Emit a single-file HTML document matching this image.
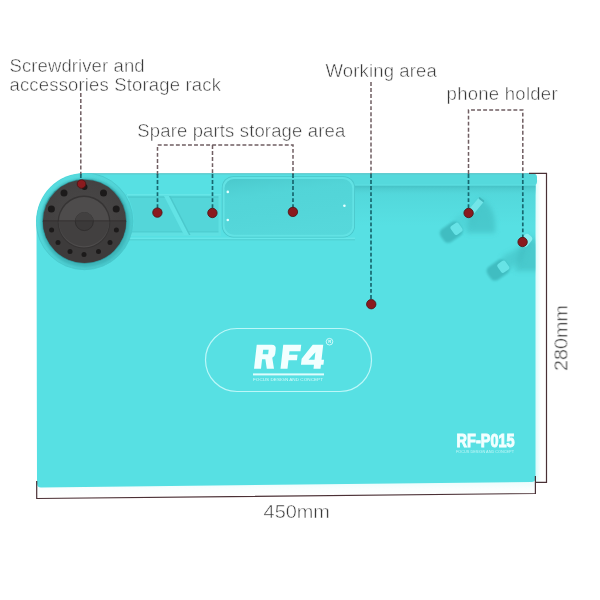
<!DOCTYPE html>
<html><head><meta charset="utf-8">
<style>
html,body{margin:0;padding:0;background:#fff;width:600px;height:600px;overflow:hidden}
svg{display:block}
.t{font-family:"Liberation Sans",sans-serif;font-size:18.5px;fill:#383838;stroke:#fff;stroke-width:0.5px}
</style></head>
<body>
<svg width="600" height="600" viewBox="0 0 600 600" style="opacity:0.999">
<defs>
  <linearGradient id="under" x1="0" y1="0" x2="0" y2="1">
    <stop offset="0" stop-color="#3fb8bc"/>
    <stop offset="0.3" stop-color="#4ecdd0"/>
    <stop offset="1" stop-color="#59dee0" stop-opacity="0"/>
  </linearGradient>
  <linearGradient id="thick" x1="0" y1="0" x2="0" y2="1">
    <stop offset="0" stop-color="#e6fcfc"/>
    <stop offset="0.5" stop-color="#fafefe"/>
    <stop offset="1" stop-color="#ffffff"/>
  </linearGradient>
  <linearGradient id="rside" x1="0" y1="0" x2="1" y2="0">
    <stop offset="0" stop-color="#d8fafa"/>
    <stop offset="1" stop-color="#ffffff"/>
  </linearGradient>
  <radialGradient id="disc" cx="0.5" cy="0.45" r="0.55">
    <stop offset="0" stop-color="#4a4848"/>
    <stop offset="1" stop-color="#424040"/>
  </radialGradient>
  <linearGradient id="cmpg" x1="0" y1="0" x2="0.3" y2="1">
    <stop offset="0" stop-color="#46c2c6" stop-opacity="0.7"/>
    <stop offset="0.35" stop-color="#4ccbce" stop-opacity="0.2"/>
    <stop offset="1" stop-color="#5ad9dc" stop-opacity="0.3"/>
  </linearGradient>
  <linearGradient id="ringg" x1="0.15" y1="0.1" x2="0.85" y2="0.95">
    <stop offset="0" stop-color="#57dcdf"/>
    <stop offset="0.5" stop-color="#50d2d5"/>
    <stop offset="1" stop-color="#48c7cb"/>
  </linearGradient>
  <linearGradient id="under2" x1="0" y1="0" x2="0" y2="1">
    <stop offset="0" stop-color="#4ccbcf" stop-opacity="0.5"/>
    <stop offset="1" stop-color="#4ccbcf" stop-opacity="0"/>
  </linearGradient>
  <clipPath id="matclip"><path d="M84.5,173.5 L532,173.5 Q535.5,173.5 535.5,177 L535.5,478 Q535.5,482 531.5,482 L41,487.5 Q37,487.5 37,483.5 L36.5,221 A48,48 0 0 1 84.5,173.5 Z"/></clipPath>
  <filter id="b1" x="-50%" y="-50%" width="200%" height="200%"><feGaussianBlur stdDeviation="1"/></filter>
  <filter id="b2" x="-50%" y="-50%" width="200%" height="200%"><feGaussianBlur stdDeviation="2.5"/></filter>
  <filter id="b4" x="-50%" y="-50%" width="200%" height="200%"><feGaussianBlur stdDeviation="4"/></filter>
</defs>

<!-- white thickness under mat + right side -->
<rect x="535" y="180" width="6" height="302" fill="url(#rside)"/>
<polygon points="37,486 535.5,480 535.5,493 37,498" fill="url(#thick)"/>

<!-- mat body -->
<path d="M84.5,173.5 L532,173.5 Q535.5,173.5 535.5,177 L535.5,478 Q535.5,482 531.5,482 L41,487.5 Q37,487.5 37,483.5 L36.5,221 A48,48 0 0 1 84.5,173.5 Z" fill="#57e0e3"/>

<!-- right top band -->
<path d="M350,173.5 L533,173.5 Q537,173.5 537,177.5 L537,181.5 Q537,185.5 533,185.5 L350,185.5 Z" fill="#55d9dc"/>
<rect x="84" y="173.2" width="451" height="1.2" fill="#5cc8cb"/>
<rect x="352" y="185.5" width="183.5" height="10" fill="url(#under)"/>
<rect x="352" y="185.5" width="183.5" height="40" fill="url(#under2)"/>
<rect x="352" y="184.6" width="183.5" height="0.9" fill="#60e2e4"/>

<!-- left shelf -->
<rect x="120" y="237.6" width="235" height="1.4" fill="#66e7e9"/>
<rect x="120" y="239" width="235" height="1.5" fill="#52d3d6"/>

<!-- tray -->
<path d="M126,194 H221 V236 H131.1 A49,49 0 0 0 126,194 Z" fill="#54d6d9"/>
<rect x="127" y="194" width="94" height="1.6" fill="#66e6e8"/>
<rect x="128" y="196.6" width="93" height="1" fill="#4bc7cb"/>
<rect x="131" y="231.5" width="90" height="1" fill="#4bc7cb"/>
<rect x="131" y="232.5" width="90" height="3.5" fill="#5fe0e2"/>
<polygon points="164,196 169,196 189,235 184,235" fill="#62e3e5"/>
<polygon points="169,196 170.5,196 190.5,235 189,235" fill="#4cc8cc"/>
<rect x="218.5" y="196" width="2.5" height="40" fill="#5fe0e2"/>

<!-- rounded compartment -->
<rect x="221.8" y="176.2" width="133.2" height="61.2" rx="11.6" fill="#49c5c9"/>
<rect x="222.6" y="176.9" width="131.6" height="59.8" rx="11" fill="#62e2e4"/>
<rect x="224.6" y="178.9" width="127.6" height="55.8" rx="9.4" fill="#54d7da"/>
<rect x="224.6" y="178.9" width="127.6" height="55.8" rx="9.4" fill="url(#cmpg)"/>
<circle cx="227.8" cy="191.9" r="1.3" fill="#e6ffff"/>
<circle cx="227.8" cy="220" r="1.3" fill="#e6ffff"/>
<circle cx="344.4" cy="205.8" r="1.3" fill="#e6ffff"/>

<!-- storage rack circle -->
<circle cx="84.5" cy="221.3" r="48.4" fill="url(#ringg)"/>
<circle cx="84.5" cy="221.3" r="48.4" fill="none" stroke="#49c6ca" stroke-width="0.8" clip-path="url(#matclip)"/>
<circle cx="85" cy="222.6" r="44.4" fill="#3db5b9" filter="url(#b1)"/>
<circle cx="84.5" cy="221.3" r="42.4" fill="#2f9297"/>
<circle cx="84.5" cy="221.3" r="41.6" fill="url(#disc)"/>
<path d="M42.9,221 A41.6,41.6 0 0 0 126.1,221 Z" fill="#3d3b3b"/>
<circle cx="84" cy="222" r="26.4" fill="#363434"/>
<circle cx="84" cy="222.3" r="25.2" fill="#4e4c4c"/>
<path d="M58.8,221 A25.2,25.2 0 0 0 109.2,221 Z" fill="#424040"/>
<circle cx="84.3" cy="221.6" r="9" fill="#3b3939" stroke="#2f2d2d" stroke-width="0.9"/>
<path d="M75.3,221 A9,9 0 0 1 93.3,221 Z" fill="#424040"/>
<line x1="43" y1="220.8" x2="126" y2="220.8" stroke="#2e2c2c" stroke-width="0.8"/>
<g fill="#1c1a1a">
  <circle cx="64" cy="193" r="3.5"/><circle cx="103.5" cy="193" r="3.5"/>
  <circle cx="51.4" cy="209" r="3.5"/><circle cx="116.2" cy="209" r="3.5"/>
  <circle cx="51.6" cy="230" r="2.5"/><circle cx="116.4" cy="230" r="2.5"/>
  <circle cx="58" cy="242.4" r="2.5"/><circle cx="110" cy="242.4" r="2.5"/>
  <circle cx="70" cy="251.6" r="2.5"/><circle cx="98.5" cy="251.6" r="2.5"/>
  <circle cx="84" cy="254.4" r="2.5"/>
  <circle cx="84.5" cy="187" r="3"/>
</g>

<!-- phone holders -->
<g clip-path="url(#matclip)">
  <path d="M470,212 L481,198 Q498,210 495,233 L466,233 Z" fill="#40bbbf" opacity="0.6" filter="url(#b2)"/>
  <path d="M519,250 L530,236 Q547,248 544,271 L515,271 Z" fill="#40bbbf" opacity="0.6" filter="url(#b2)"/>
  <path d="M503,256 L527,244 L522,262 L498,274 Z" fill="#40bbbf" opacity="0.5" filter="url(#b2)"/>
  <path d="M455,218 L478,206 L474,224 L450,236 Z" fill="#42bdc1" opacity="0.3" filter="url(#b2)"/>
  <!-- lower cylinders -->
  <g transform="translate(451.3 232.2) rotate(145)">
    <rect x="-11" y="-8" width="22" height="16" rx="5.5" fill="#41bdc1" filter="url(#b1)"/>
  </g>
  <g transform="translate(456.5 228.8) rotate(55)">
    <rect x="-5.3" y="-4.8" width="10.6" height="9.6" rx="2.5" fill="#67e3e6"/>
  </g>
  <g transform="translate(498.1 270) rotate(145)">
    <rect x="-11" y="-8" width="22" height="16" rx="5.5" fill="#41bdc1" filter="url(#b1)"/>
  </g>
  <g transform="translate(503.3 266.7) rotate(55)">
    <rect x="-5.3" y="-4.8" width="10.6" height="9.6" rx="2.5" fill="#67e3e6"/>
  </g>
  <!-- upper bars -->
  <g transform="translate(476.4 205.6) rotate(-50)">
    <rect x="-9" y="-3.3" width="17.5" height="6.6" rx="2.5" fill="#72e5e8"/>
    <rect x="6.8" y="-3.3" width="2" height="6.6" rx="1" fill="#3fb6ba"/>
  </g>
  <g transform="translate(526 240.5) rotate(-50)">
    <rect x="-6.5" y="-4.5" width="13" height="9" rx="3.5" fill="#88eef0"/>
  </g>
</g>

<!-- RF4 logo -->
<rect x="205.5" y="328.5" width="166" height="63" rx="31.5" fill="none" stroke="#bcf7f8" stroke-width="1.2"/>
<g transform="translate(0 368.7) skewX(-6.5)" fill="#f2ffff" fill-rule="evenodd">
  <path d="M254,0 V-24 H269 Q273.5,-24 273.5,-19.5 V-15 Q273.5,-12 271,-11 L274,0 H266.8 L264.3,-9.5 H261 V0 Z M261,-19 H266.5 V-14.5 H261 Z"/>
  <path d="M280.5,0 V-24 H298.5 V-17.5 H287.5 V-14 H296 V-8.5 H287.5 V0 Z"/>
  <path d="M310,-24 H320.5 V-9 H323 V-4 H320.5 V0 H313.5 V-4 H300.5 V-10 Z M313.5,-16.5 V-9 H307.5 Z"/>
</g>
<rect x="253" y="373.4" width="71" height="2" fill="#dffcfc"/>
<text x="253" y="381.3" font-family="Liberation Sans" font-size="3.8" fill="#d5fafa" textLength="70" lengthAdjust="spacingAndGlyphs">FOCUS DESIGN AND CONCEPT</text>
<circle cx="329.5" cy="341.7" r="3.3" fill="none" stroke="#e8ffff" stroke-width="0.8"/>
<text x="328.2" y="343.3" font-family="Liberation Sans" font-size="4.2" font-weight="bold" fill="#e8ffff">R</text>

<!-- RF-P015 -->
<text x="456.6" y="446.9" font-family="Liberation Sans" font-weight="bold" font-size="18.6" fill="#f2ffff" stroke="#f2ffff" stroke-width="1" textLength="58" lengthAdjust="spacingAndGlyphs">RF-P015</text>
<text x="456" y="453" font-family="Liberation Sans" font-size="3.6" fill="#c4f6f7" textLength="58" lengthAdjust="spacingAndGlyphs">FOCUS DESIGN AND CONCEPT</text>

<!-- dimension lines -->
<g stroke="#4a3035" stroke-width="1.2" fill="none">
  <polyline points="529,173.3 546.5,173.3 546.5,482.3 535.4,482.3"/>
  <polyline points="535.4,476 535.4,493.5 36.7,498.5 36.7,481"/>
</g>

<!-- dashed leader lines (off-mat) -->
<g stroke="#6f5e62" stroke-width="1.5" stroke-dasharray="3.9 2.15" fill="none">
  <line x1="80.8" y1="93" x2="80.8" y2="176"/>
  <polyline points="157.5,175 157.5,145 293,145 293,175"/>
  <line x1="212.5" y1="145" x2="212.5" y2="175"/>
  <line x1="371" y1="82" x2="371" y2="174"/>
  <polyline points="468.5,174 468.5,110 522.8,110 522.8,174"/>
</g>
<!-- dashed leader lines (on-mat) -->
<g stroke="#176870" stroke-width="1.7" stroke-dasharray="3.9 2.15" fill="none">
  <line x1="80.8" y1="174" x2="80.8" y2="181"/>
  <line x1="157.5" y1="174" x2="157.5" y2="209"/>
  <line x1="212.5" y1="174" x2="212.5" y2="209"/>
  <line x1="293" y1="174" x2="293" y2="208"/>
  <line x1="371" y1="174" x2="371" y2="300"/>
  <line x1="468.5" y1="174" x2="468.5" y2="209"/>
  <line x1="522.8" y1="174" x2="522.8" y2="238"/>
</g>
<!-- red dots -->
<g fill="#8a1a1e" stroke="#4d1012" stroke-width="0.8">
  <circle cx="81.5" cy="184" r="4.3"/>
  <circle cx="157.4" cy="212.6" r="4.7"/>
  <circle cx="212.4" cy="213" r="4.7"/>
  <circle cx="292.9" cy="211.9" r="4.7"/>
  <circle cx="371.25" cy="304.2" r="4.7"/>
  <circle cx="468.6" cy="213" r="4.7"/>
  <circle cx="522.6" cy="242" r="4.7"/>
</g>

<!-- labels -->
<g opacity="0.99">
<text class="t" x="9.5" y="71.7" letter-spacing="0.1">Screwdriver and</text>
<text class="t" x="9.5" y="91.2" letter-spacing="0.16">accessories Storage rack</text>
<text class="t" x="137.3" y="136.7" letter-spacing="0.14">Spare parts storage area</text>
<text class="t" x="325.5" y="77" letter-spacing="0.15">Working area</text>
<text class="t" x="446.6" y="100" letter-spacing="0.27">phone holder</text>
<text class="t" transform="translate(263.6 517.7) scale(1.075 1)">450mm</text>
<text class="t" style="stroke-width:0.4px;fill:#383838" transform="translate(567.4 371) rotate(-90) scale(1.07 1)">280mm</text>
</g>
</svg>
</body></html>
